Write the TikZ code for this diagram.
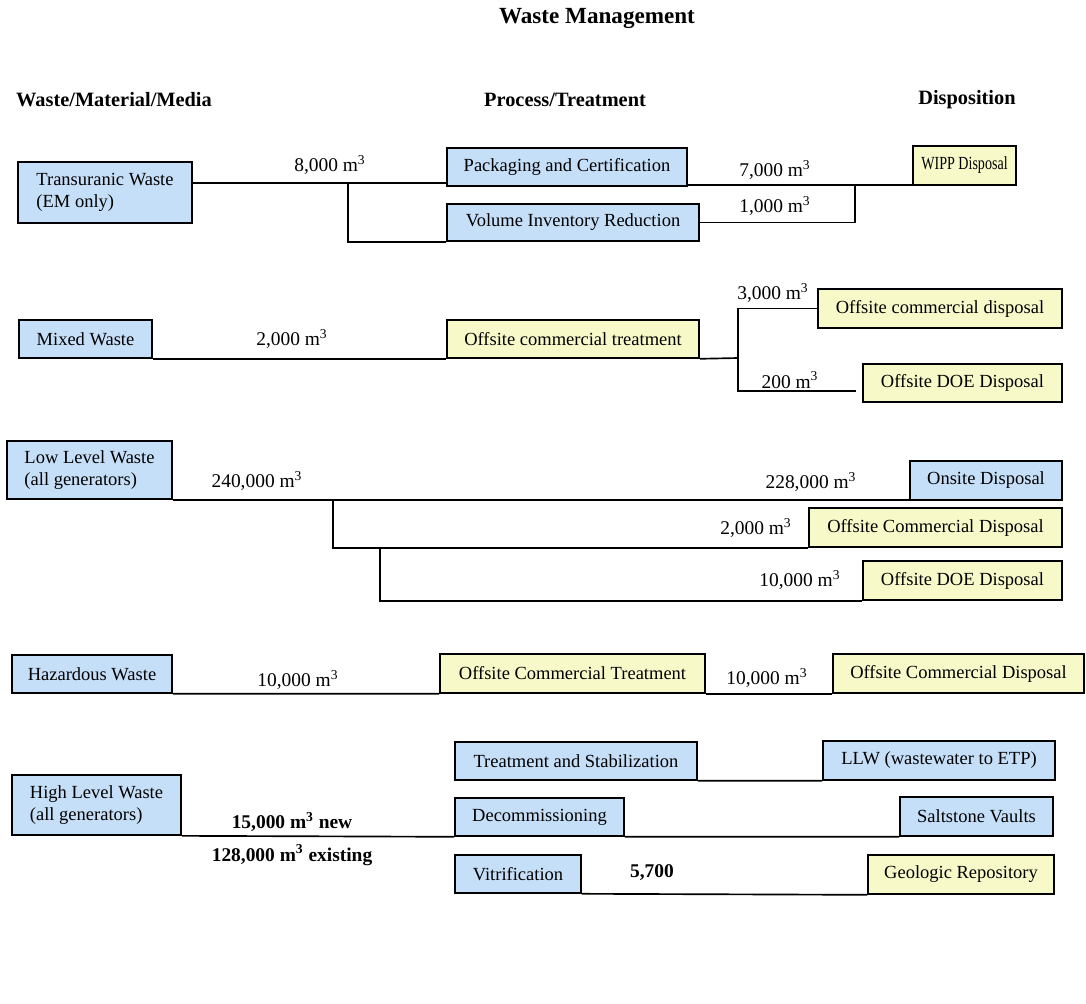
\documentclass[tikz,border=0pt]{standalone}
\usepackage{fontspec}
\setmainfont{Liberation Serif}
\newfontfamily\narrowserif{Liberation Serif}[FakeStretch=0.76]
\definecolor{boxblue}{RGB}{198,223,248}
\definecolor{boxyellow}{RGB}{247,250,200}
\begin{document}
\begin{tikzpicture}[x=0.019cm,y=-0.019cm,line width=0.9pt,
  bluebox/.style={rectangle,draw,fill=boxblue,inner sep=0pt,align=left,font=\fontsize{10}{12}\selectfont},
  yellowbox/.style={rectangle,draw,fill=boxyellow,inner sep=0pt,align=left,font=\fontsize{10}{12}\selectfont},
  qty/.style={inner sep=0pt,font=\fontsize{10.5}{12}\selectfont},
  heading/.style={inner sep=0pt,font=\fontsize{11}{13}\selectfont\bfseries}]

\useasboundingbox (0,0) rectangle (1086,1003);

 \node[heading,font=\fontsize{12.5}{15}\selectfont\bfseries] (title) at (597,18) {Waste Management};
 \node[heading] (h_media) at (114,100) {Waste/Material/Media};
 \node[heading] (h_proc) at (565,100) {Process/Treatment};
 \node[heading] (h_disp) at (967,100) {Disposition};

%% transuranic

 \node[bluebox,minimum width=3.31cm,minimum height=1.16cm] (tru) at (105,192.5) {Transuranic Waste\\(EM only)};
 \node[bluebox,minimum width=4.56cm,minimum height=0.72cm] (pack) at (567,167) {Packaging and Certification};
 \node[bluebox,minimum width=4.79cm,minimum height=0.70cm] (vol) at (573,222.5) {Volume Inventory Reduction};
 \node[yellowbox,minimum width=1.96cm,minimum height=0.74cm,font=\fontsize{10}{12}\narrowserif] (wipp) at (964.5,165.5) {WIPP Disposal};

 \coordinate (tru_j1) at (348,183);
 \coordinate (tru_j2) at (855,185);
 \draw (tru.east |- tru_j1) -- (pack.west |- tru_j1);
 \draw (tru_j1) |- (vol.south west);
 \draw (pack.east |- tru_j2) -- (wipp.west |- tru_j2);
 \draw (vol.east) -| (tru_j2);

 \node[qty] (q_tru) at (330,165) {8,000 m\textsuperscript{3}};
 \node[qty] (q_pack) at (775,170) {7,000 m\textsuperscript{3}};
 \node[qty] (q_vol) at (775,206) {1,000 m\textsuperscript{3}};

%% mixed

 \node[bluebox,minimum width=2.53cm,minimum height=0.72cm] (mix) at (85.5,339) {Mixed Waste};
 \node[yellowbox,minimum width=4.79cm,minimum height=0.72cm] (mix_tr) at (573,339) {Offsite commercial treatment};
 \node[yellowbox,minimum width=4.64cm,minimum height=0.74cm] (mix_cd) at (940,308.5) {Offsite commercial disposal};
 \node[yellowbox,minimum width=3.78cm,minimum height=0.72cm] (mix_doe) at (962.5,383) {Offsite DOE Disposal};

 \coordinate (mix_j1) at (738,358);
 \coordinate (mix_end) at (856,391);
 \draw (mix.south east) -- (mix_tr.south west);
 \draw (mix_tr.south east) -- (mix_j1);
 \draw (mix_j1) |- (mix_cd.west);
 \draw (mix_j1) |- (mix_end);

 \node[qty] (q_mix) at (292,339) {2,000 m\textsuperscript{3}};
 \node[qty] (q_mix_cd) at (773,293) {3,000 m\textsuperscript{3}};
 \node[qty] (q_mix_doe) at (790,380) {200 m\textsuperscript{3}};

%% low level

 \node[bluebox,minimum width=3.14cm,minimum height=1.10cm] (llw) at (89.5,470) {Low Level Waste\\(all generators)};
 \node[bluebox,minimum width=2.89cm,minimum height=0.74cm] (llw_on) at (986,480.5) {Onsite Disposal};
 \node[yellowbox,minimum width=4.81cm,minimum height=0.74cm] (llw_cd) at (935.5,527.5) {Offsite Commercial Disposal};
 \node[yellowbox,minimum width=3.78cm,minimum height=0.74cm] (llw_doe) at (962.5,580.5) {Offsite DOE Disposal};

 \coordinate (llw_j1) at (333,499);
 \coordinate (llw_j2) at (380,546.5);
 \draw (llw.south east) -- (llw.south east -| llw_on.west);
 \draw (llw_j1) |- (llw_cd.south west);
 \draw (llw_j2) |- (llw_doe.south west);

 \node[qty] (q_llw) at (257,481) {240,000 m\textsuperscript{3}};
 \node[qty] (q_llw_on) at (811,482) {228,000 m\textsuperscript{3}};
 \node[qty] (q_llw_cd) at (756,528) {2,000 m\textsuperscript{3}};
 \node[qty] (q_llw_doe) at (800,580) {10,000 m\textsuperscript{3}};

%% hazardous

 \node[bluebox,minimum width=3.04cm,minimum height=0.72cm] (haz) at (92,674) {Hazardous Waste};
 \node[yellowbox,minimum width=5.04cm,minimum height=0.74cm] (haz_tr) at (572.5,673.5) {Offsite Commercial Treatment};
 \node[yellowbox,minimum width=4.77cm,minimum height=0.74cm] (haz_cd) at (958.5,673.5) {Offsite Commercial Disposal};

 \draw (haz.south east) -- (haz_tr.south west);
 \draw (haz_tr.south east) -- (haz_cd.south west);

 \node[qty] (q_haz) at (298,680) {10,000 m\textsuperscript{3}};
 \node[qty] (q_haz_cd) at (767,678) {10,000 m\textsuperscript{3}};

%% high level

 \node[bluebox,minimum width=3.21cm,minimum height=1.14cm] (hlw) at (96.5,805) {High Level Waste\\(all generators)};
 \node[bluebox,minimum width=4.60cm,minimum height=0.72cm] (hlw_stab) at (576,761) {Treatment and Stabilization};
 \node[bluebox,minimum width=3.21cm,minimum height=0.72cm] (hlw_dec) at (539.5,817) {Decommissioning};
 \node[bluebox,minimum width=2.39cm,minimum height=0.72cm] (hlw_vit) at (518,874) {Vitrification};
 \node[bluebox,minimum width=4.41cm,minimum height=0.74cm] (hlw_etp) at (939,760.5) {LLW (wastewater to ETP)};
 \node[bluebox,minimum width=2.91cm,minimum height=0.74cm] (hlw_salt) at (976.5,816.5) {Saltstone Vaults};
 \node[yellowbox,minimum width=3.53cm,minimum height=0.74cm] (hlw_geo) at (961,874.5) {Geologic Repository};

 \draw (hlw.south east) -- (hlw_dec.south west);
 \draw (hlw_dec.south east) -- (hlw_salt.south west);
 \draw (hlw_stab.south east) -- (hlw_etp.south west);
 \draw (hlw_vit.south east) -- (hlw_geo.south west);

 \node[qty,font=\fontsize{10.5}{12}\selectfont\bfseries] (q_hlw_new) at (292,822) {15,000 m\textsuperscript{3} new};
 \node[qty,font=\fontsize{10.5}{12}\selectfont\bfseries] (q_hlw_old) at (292,855) {128,000 m\textsuperscript{3} existing};
 \node[qty,font=\fontsize{10.5}{12}\selectfont\bfseries] (q_hlw_vit) at (652,873) {5,700};

\end{tikzpicture}
\end{document}
